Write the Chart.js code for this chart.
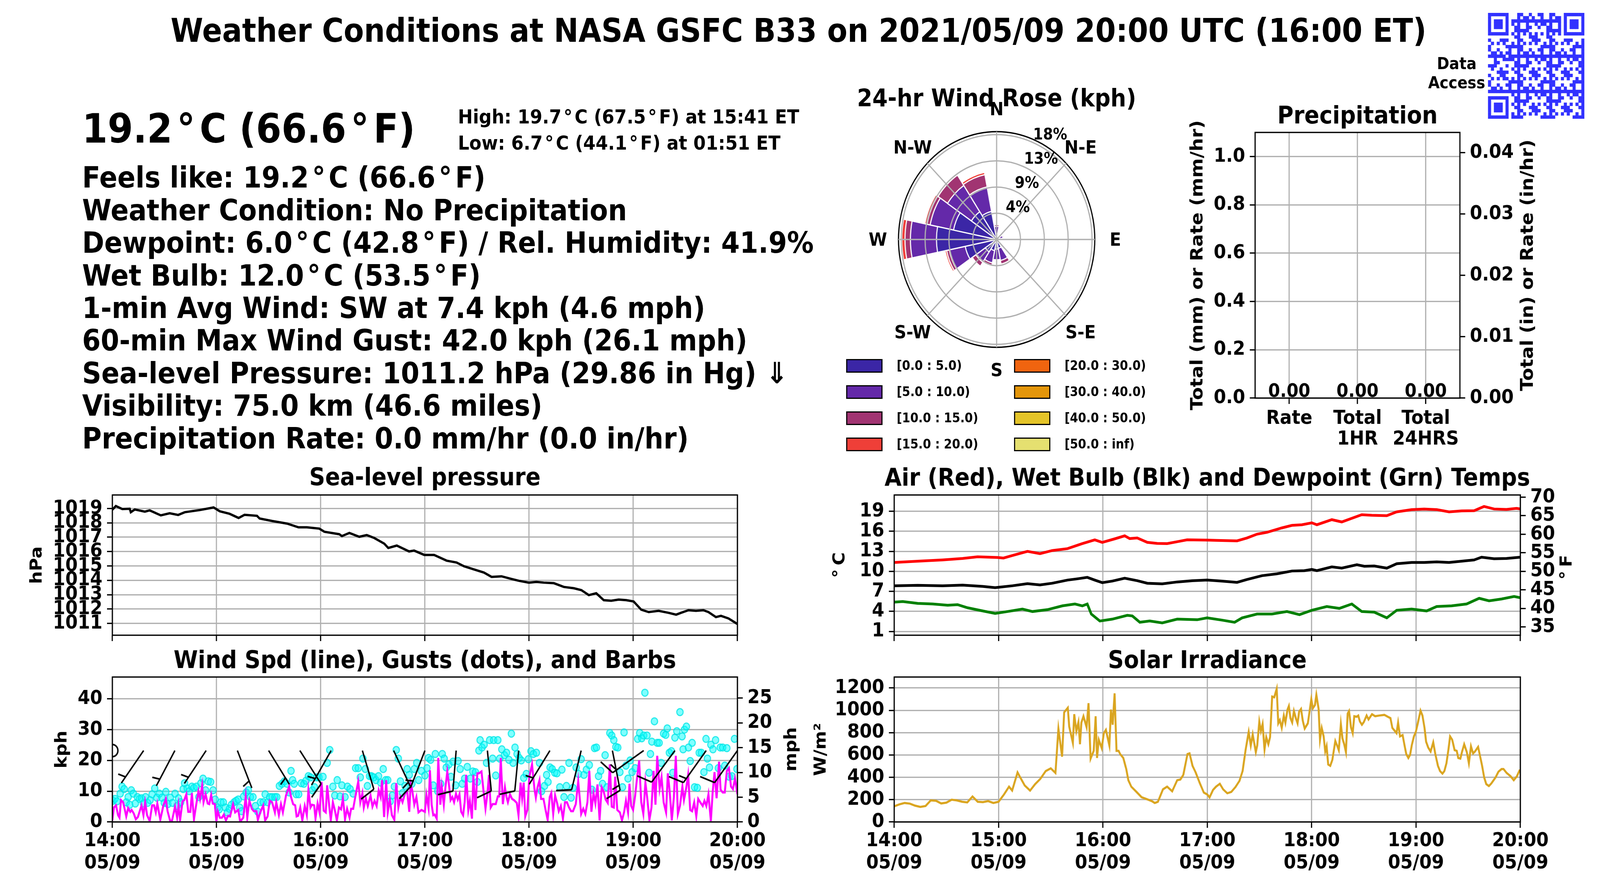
<!DOCTYPE html>
<html>
<head>
<meta charset="utf-8">
<title>Weather Conditions at NASA GSFC B33</title>
<script src="https://cdn.jsdelivr.net/npm/chart.js@4.4.1/dist/chart.umd.min.js"></script>
<style>
  html, body { margin: 0; padding: 0; background: #fff; overflow: hidden; }
  #wrap { position: relative; overflow: hidden; width: 4500px; height: 2250px; }
  #page { position: absolute; left: 0; top: 0; width: 4500px; height: 2250px; overflow: hidden; transform-origin: 0 0;
          font-family: "DejaVu Sans", sans-serif; font-weight: bold; color: #000; }
  .txt { position: absolute; white-space: nowrap; line-height: 1.164; }
  .dg { margin: 0 0.12em; }
  canvas { position: absolute; }
  .key { position: absolute; box-sizing: border-box; border: 3px solid #000; }
</style>
</head>
<body>
<div id="wrap"><div id="page"></div></div>
<script>
// ==========================
// DATA
// ==========================
const hourMinutes = [0, 60, 120, 180, 240, 300, 360];
const hourLabels = ['14:00', '15:00', '16:00', '17:00', '18:00', '19:00', '20:00'];
const dateLabel = '05/09';

// sea-level pressure (minutes after 14:00, hPa)
const pressMin = [0, 2, 5.7, 10, 10.6, 12.9, 18.7, 21.5, 27.9, 33, 37.9, 41.7, 50.3, 58.3, 61.8, 67.5, 72.7, 76.1, 83.3, 84.8,
  91.9, 100.6, 107.2, 112, 119.2, 122.1, 130.7, 132.2, 136.5, 142.2, 146.5, 150.8, 156.6, 158.9, 163.8, 170.9, 173.8, 179.6,
  185.3, 192.5, 198.2, 202.5, 208.3, 214, 218.4, 224.1, 229.8, 234.1, 239.9, 244.2, 248.5, 254.3, 260, 265.8, 270.1, 274.4,
  278.7, 283, 287.3, 291.6, 296, 300.2, 304.6, 308.9, 314.6, 320.3, 324.7, 327.5, 331.8, 336.1, 340.4, 343.3, 347.6, 350.5, 354.8, 360];
const pressHpa = [1018.91, 1019.17, 1018.96, 1018.98, 1018.74, 1018.93, 1018.78, 1018.87, 1018.52, 1018.67, 1018.55, 1018.74,
  1018.89, 1019.07, 1018.81, 1018.63, 1018.34, 1018.56, 1018.49, 1018.30, 1018.13, 1017.95, 1017.69, 1017.69, 1017.60, 1017.38,
  1017.21, 1017.08, 1017.30, 1017.03, 1017.15, 1016.95, 1016.55, 1016.25, 1016.42, 1016.01, 1016.07, 1015.77, 1015.77, 1015.37,
  1015.24, 1014.98, 1014.76, 1014.54, 1014.24, 1014.28, 1014.10, 1013.97, 1013.84, 1013.89, 1013.84, 1013.80, 1013.54, 1013.45,
  1013.32, 1012.97, 1013.10, 1012.62, 1012.58, 1012.66, 1012.62, 1012.53, 1011.96, 1011.79, 1011.88, 1011.74, 1011.61, 1011.74,
  1011.92, 1011.88, 1011.92, 1011.79, 1011.44, 1011.53, 1011.35, 1010.96];
const pressTicks = [1011, 1012, 1013, 1014, 1015, 1016, 1017, 1018, 1019];

// 1-min wind speed (kph)
const windMin = [0, 0.9, 2.1, 3.3, 4.1, 5.0, 6.2, 7.2, 8.0, 9.1, 10.3, 11.1, 12.3, 13.5, 14.7, 16.8, 17.9, 18.9, 20.0, 21.5,
  22.9, 24.0, 25.0, 25.9, 27.6, 29.4, 30.8, 31.8, 33.4, 34.3, 36.1, 37.3, 38.1, 39.0, 40.4, 41.4, 42.6, 43.7, 44.9, 45.8, 47.0,
  48.4, 49.6, 50.5, 51.7, 52.5, 53.7, 54.9, 55.8, 56.9, 57.8, 59.0, 59.9, 60.7, 61.9, 63.1, 64.2, 65.4, 66.6, 67.8, 69.5, 70.7,
  72.5, 73.6, 75.4, 76.8, 77.7, 78.9, 80.3, 81.5, 83.0, 83.8, 85.3, 86.9, 88.0, 89.4, 90.6, 92.0, 93.6, 94.4, 95.9, 97.1, 98.2,
  100.0, 101.8, 102.9, 104.1, 105.3, 106.1, 107.0, 108.2, 109.4, 110.8, 112.0, 112.9, 114.1, 115.0, 116.2, 117.0, 118.2, 119.3,
  120.5, 121.7, 122.9, 123.7, 124.9, 125.8, 127.0, 128.1, 129.3, 130.5, 131.7, 132.8, 134.0, 135.2, 136.6, 137.5, 138.7, 139.9,
  141.6, 142.8, 144.0, 144.8, 146.0, 147.1, 148.7, 149.8, 151.0, 152.2, 153.4, 154.5, 155.3, 156.5, 157.7, 158.6, 159.8, 161.0,
  162.4, 163.5, 164.7, 165.9, 167.1, 168.6, 169.8, 171.0, 171.8, 172.7, 173.9, 175.1, 176.3, 178.0,
  180.0, 180.9, 182.1, 182.9, 183.9, 184.8, 185.6, 186.8, 187.7, 188.9, 189.7, 190.9, 191.8, 192.9, 193.8, 194.8, 195.8, 196.8,
  197.9, 198.9, 199.9, 200.9, 202.0, 202.9, 203.8, 205.0, 205.9, 207.1, 207.9, 209.1, 210.2, 211.1, 212.6, 213.8, 214.9, 216.1,
  216.9, 217.9, 219.0, 220.8, 222.0, 222.8, 223.7, 224.9, 226.1, 227.0, 227.8, 229.0, 230.2, 231.3, 232.9, 233.9, 235.1, 236.0,
  236.9, 237.8, 239.0, 240.1, 241.7, 243.1, 243.9, 244.8, 246.0, 246.9, 248.3, 249.5, 250.7, 251.9, 252.8, 253.9, 255.0, 256.2,
  257.1, 258.3, 259.5, 260.7, 261.8, 263.0, 264.2, 265.3, 266.9, 268.3, 270.0, 271.2, 272.4, 273.6, 274.7, 275.9, 277.1, 278.2,
  279.4, 280.6, 281.8, 282.9, 284.1, 285.3, 286.5, 287.6, 288.8, 289.6, 290.8, 292.3, 293.5, 294.7, 295.8, 297.0, 297.8, 298.8,
  299.9, 301.1, 302.3, 303.4, 304.6, 305.8, 307.0, 308.1, 309.3, 310.5, 311.7, 312.8, 313.8, 315.2, 316.3, 317.5, 318.9, 319.9,
  321.0, 322.2, 323.4, 324.5, 325.7, 326.9, 328.3, 329.2, 330.4, 331.6, 332.8, 333.9, 335.1, 336.3, 337.4, 338.6, 340.0, 341.0,
  342.1, 343.3, 344.7, 345.7, 346.8, 348.0, 349.4, 350.3, 351.5, 352.7, 353.9, 355.1, 356.3, 357.4, 358.6, 360.0];
const windKph = [0.5, 4.7, 5.4, 2.2, 1.4, 7.1, 6.4, 3.9, 1.8, 4.5, 3.3, 3.9, 2.8, 0.9, 1.6, 5.4, 2.2, 6.4, 2.2, 0.3,
  5.4, 5.4, 3.1, 6.0, 0.7, 5.4, 7.5, 3.5, 0.1, 0.3, 5.0, 1.4, 5.4, 0.5, 6.7, 7.1, 9.0, 3.3, 3.3, 9.4, 0.9,
  6.0, 10.0, 7.5, 11.9, 6.4, 9.0, 6.0, 5.8, 8.8, 6.0, 5.8, 0.1, 3.5, 1.4, 1.4, 2.4, 0.5, 2.0, 1.8, 5.8, 3.1,
  3.9, 0.1, 1.4, 8.3, 1.4, 6.9, 4.3, 3.5, 3.5, 0.7, 3.3, 5.4, 0.5, 1.8, 6.9, 6.4, 3.1, 6.4, 2.2, 5.8, 3.1,
  8.6, 11.5, 8.1, 5.8, 5.4, 1.8, 2.0, 4.7, 0.5, 5.2, 2.2, 10.3, 4.7, 5.6, 5.4, 1.1, 6.0, 3.1,
  13.0, 3.7, 3.1, 11.9, 5.2, 0.5, 6.4, 3.9, 0.5, 4.7, 4.1, 7.7, 0.9, 4.3, 1.4, 4.3, 4.3, 8.1,
  13.2, 6.4, 9.4, 4.7, 7.7, 5.2, 8.6, 5.0, 6.9, 5.2, 10.3, 8.1, 13.6, 1.6, 13.6, 3.1, 7.3, 2.2,
  0.7, 12.6, 4.7, 8.1, 6.4, 9.4, 9.8, 3.3, 12.4, 10.3, 5.6, 8.1, 3.1, 3.9,
  3.3, 8.8, 4.5, 16.8, 5.6, 2.2, 2.4, 1.1, 20.8, 5.6, 11.5, 5.6, 11.1, 16.4, 12.4, 7.1, 8.1, 6.4,
  9.2, 7.3, 9.0, 3.3, 2.2, 6.4, 15.3, 3.9, 6.9, 1.1, 15.3, 3.9, 15.8, 15.8, 16.4, 9.8, 4.3, 9.8,
  15.3, 4.7, 5.8, 5.8, 8.3, 8.3, 20.8, 5.8, 11.3, 8.1, 6.4, 9.0, 7.5, 7.1, 6.2, 2.2, 12.8, 7.7,
  12.8, 1.8, 3.9, 14.5, 18.7, 10.7, 7.9, 11.1, 13.6, 7.5, 7.5, 3.9, 0.7, 8.1, 9.4, 2.6, 8.6, 6.0,
  3.5, 5.2, 1.1, 6.4, 6.4, 4.7, 3.5, 3.5, 5.8, 13.2, 2.6, 4.3, 2.6, 6.4, 16.6, 3.3, 9.4, 6.0,
  12.2, 0.5, 11.3, 10.0, 7.3, 6.2, 18.7, 5.0, 4.7, 14.7, 3.9, 3.1, 0.5, 3.1, 6.9, 3.1, 12.4, 5.2,
  3.9, 8.6, 14.9, 20.0, 6.4, 2.6, 12.8, 7.5, 0.7, 4.7, 16.6, 5.6, 21.5, 10.7, 14.5, 6.4, 3.1, 15.8,
  9.8, 0.5, 8.1, 21.5, 2.6, 5.2, 11.5, 7.1, 10.7, 15.3, 3.9, 3.5, 6.4, 1.8, 7.5, 6.4, 5.2, 6.9,
  5.2, 9.0, 0.3, 9.4, 16.2, 7.7, 19.6, 10.5, 9.6, 9.6, 16.6, 17.5, 11.5, 10.7, 14.1, 9.0];

// wind gusts (kph)
const gustMin = [0.4, 1.5, 2.7, 4.5, 5.6, 6.8, 8.0, 9.1, 10.0, 10.9, 12.1, 13.2, 14.4, 15.6, 16.8, 17.9, 19.1, 20.3, 21.7,
  22.9, 24.4, 25.6, 27.1, 28.5, 29.9, 30.8, 32.0, 33.4, 34.6, 36.1, 37.3, 38.1, 39.3, 40.8, 41.6, 43.1, 44.3, 45.8, 47.0,
  48.4, 49.8, 51.0, 52.2, 53.7, 55.2, 56.6, 58.0, 59.2, 60.7, 61.5, 62.5, 63.9, 65.1, 66.2, 67.4, 68.6, 70.1, 71.3, 72.5,
  73.3, 74.4, 75.6, 77.1, 78.3, 79.5, 81.0, 82.4, 83.8, 85.3, 86.9, 88.0, 89.4, 90.6, 92.0, 93.6, 94.7, 96.2, 97.7, 99.1,
  100.6, 101.8, 102.9, 103.8, 104.7, 105.9, 107.3, 108.8, 110.3, 111.5, 112.9, 114.1, 115.2, 116.4, 117.6, 119.0, 121.3,
  123.7, 125.2, 127.0, 128.1, 129.5, 131.1, 132.2, 134.0, 135.4, 136.9, 138.7, 140.1, 141.6, 142.8, 144.3, 145.7, 146.9,
  148.1, 149.2, 150.6, 151.8, 153.3, 154.5, 156.0, 157.4, 158.6, 160.0, 161.2, 162.4, 163.5, 164.7, 165.9, 167.1, 168.6,
  169.8, 171.0, 172.5, 173.9, 175.3, 176.4, 178.0,
  180.0, 181.2, 182.1, 183.3, 184.8, 186.0, 187.4, 189.1, 190.0, 191.1, 192.3, 193.8, 195.0, 196.2, 197.7, 199.1, 200.3,
  201.5, 202.9, 204.4, 206.1, 207.6, 209.1, 210.2, 211.1, 211.8, 212.9, 214.1, 215.5, 217.3, 219.0, 219.6, 220.8, 222.0,
  223.1, 224.3, 225.8, 227.0, 228.4, 229.8, 230.8, 231.9, 233.1, 234.3, 235.5, 236.9, 238.4, 239.6, 241.1, 242.5, 244.2,
  246.0, 247.2, 248.9, 250.1, 250.9, 252.1, 253.3, 254.8, 256.0, 257.7, 258.9, 260.1, 261.5, 263.0, 264.2, 265.3, 267.1,
  268.5, 270.0, 271.6, 273.0, 274.7, 276.2, 277.7, 278.8, 280.0, 281.2, 282.3, 283.8, 284.9, 286.5, 287.6, 288.8, 290.0,
  291.1, 292.3, 293.8, 294.7, 295.8, 297.0, 298.2, 299.3, 301.1, 302.5, 303.7, 304.9, 306.0, 306.7, 307.9, 309.1, 309.9,
  310.7, 312.2, 313.8, 314.9, 316.1, 317.5, 318.7, 319.6, 320.8, 322.0, 322.8, 324.0, 325.1, 326.9, 328.1, 328.7, 329.5,
  330.6, 331.8, 332.8, 333.9, 335.3, 336.9, 338.0, 339.2, 340.7, 341.9, 342.7, 343.9, 344.7, 345.9, 347.4, 349.0, 350.1,
  351.5, 352.7, 353.9, 355.3, 356.8, 358.3, 359.7];
const gustKph = [6.9, 7.5, 6.7, 9.2, 11.5, 10.7, 6.4, 8.1, 5.6, 10.3, 9.2, 6.0, 8.1, 7.5, 7.7, 6.0, 8.1, 6.2, 7.1,
  9.0, 10.9, 7.9, 9.2, 7.9, 6.2, 9.8, 5.8, 7.9, 6.2, 9.2, 5.2, 7.7, 6.4, 10.7, 12.6, 10.9, 10.0, 11.5, 11.1,
  11.5, 8.1, 12.6, 14.1, 10.3, 13.2, 13.0, 10.3, 7.3, 4.7, 4.1, 6.4, 6.4, 4.7, 3.1, 4.3, 5.6, 6.4, 6.9, 7.3,
  4.7, 3.5, 8.3, 9.6, 10.3, 8.1, 8.1, 5.2, 3.3, 6.4, 6.4, 9.0, 6.4, 8.1, 8.1, 8.1, 8.1, 11.7, 12.4, 13.2,
  12.4, 9.6, 16.6, 13.6, 12.4, 9.0, 9.0, 12.6, 12.4, 13.4, 14.9, 14.5, 10.3, 11.3, 14.5, 14.5, 14.7,
  19.2, 23.4, 11.5, 8.6, 13.6, 8.3, 11.9, 8.1, 11.5, 10.7, 9.2, 17.5, 17.5, 14.5, 20.6, 17.2, 11.7,
  14.9, 14.9, 14.5, 13.6, 14.9, 12.8, 17.2, 13.6, 13.6, 6.7, 8.6, 11.5, 23.4, 20.6, 13.2, 9.4, 11.7,
  17.2, 15.3, 12.4, 17.2, 19.2, 13.6, 16.6,
  15.1, 17.5, 20.8, 20.2, 11.9, 22.1, 10.0, 12.4, 22.1, 20.6, 17.7, 18.7, 14.7, 19.6, 11.9, 19.8, 17.2,
  12.4, 14.1, 17.9, 14.1, 16.4, 16.2, 13.0, 23.2, 26.6, 24.2, 25.1, 19.2, 26.6, 20.6, 26.6, 15.1, 26.6,
  20.6, 23.6, 21.7, 22.5, 20.2, 28.7, 19.2, 24.2, 22.1, 20.8, 20.0, 14.3, 15.6, 20.4, 23.0, 22.1, 22.5,
  19.2, 10.0, 11.7, 15.3, 13.0, 17.7, 17.2, 16.0, 15.8, 11.3, 17.0, 8.1, 11.7, 19.2, 7.9, 11.1, 17.7,
  15.6, 20.4, 15.3, 17.0, 18.5, 10.5, 24.0, 24.2, 14.9, 16.6, 12.4, 21.7, 11.3, 28.9, 28.1, 26.6, 24.4,
  24.2, 16.2, 11.3, 29.1, 18.3, 14.1, 20.0, 16.2, 17.5, 27.0, 28.9, 27.2, 28.1, 42.0, 28.1, 16.0, 22.1,
  26.1, 32.7, 25.7, 25.7, 19.2, 28.7, 28.3, 30.4, 22.5, 23.0, 16.0, 27.4, 29.5, 35.7, 27.8, 23.6, 30.0,
  31.0, 24.2, 19.8, 25.7, 11.3, 11.1, 22.5, 22.5, 16.2, 27.0, 20.6, 17.7, 25.1, 23.6, 26.6, 17.5, 24.2,
  24.2, 18.3, 24.0, 14.7, 14.9, 27.0, 17.2];

// wind barbs every 18 minutes: direction the wind blows from (deg) and speed (kph)
const barbMin = [0, 18, 36, 54, 72, 90, 108, 126, 144, 162, 180, 198, 216, 234, 252, 270, 288, 306, 324, 342, 360];
const barbDir = [0, 217, 210, 216, 157, 146, 145, 212, 162, 153, 203, 185, 174, 186, 214, 195, 168, 237, 219, 218, 218];
const barbKph = [0, 5, 5, 5, 5, 5, 10, 5, 10, 15, 5, 10, 10, 10, 5, 10, 15, 15, 10, 15, 10];
const barbLevel = 23.2;
const windTicks = [0, 10, 20, 30, 40];
const mphTicks = [0, 5, 10, 15, 20, 25];

// temperatures (deg C)
const airMin = [0, 13.5, 27.8, 39.3, 47.9, 59.4, 62.8, 68, 76.6, 83.8, 90.9, 99.6, 108.2, 115.3, 119.6, 126.8, 132.5, 135.4,
  139.7, 145.5, 151.2, 156.9, 162.7, 168.4, 179.9, 185.6, 197.1, 202.8, 208.6, 214.3, 222.9, 228.7, 234.4, 240.1, 243, 251.6,
  257.3, 268.8, 274.6, 283.2, 288.9, 297.5, 304.7, 311.9, 319, 326.2, 333.4, 339.1, 344.9, 352, 357.8, 360];
const airC = [11.33, 11.52, 11.71, 11.93, 12.18, 12.08, 11.99, 12.37, 12.99, 12.65, 13.12, 13.40, 14.16, 14.72, 14.34, 14.87,
  15.32, 14.91, 15.00, 14.34, 14.19, 14.16, 14.44, 14.72, 14.68, 14.63, 14.57, 15.00, 15.57, 15.85, 16.51, 16.89, 16.98, 17.27,
  16.98, 17.74, 17.40, 18.49, 18.40, 18.34, 18.91, 19.25, 19.34, 19.25, 18.91, 19.06, 19.09, 19.72, 19.34, 19.28, 19.43, 19.34];
const wetMin = [0, 13.5, 27.8, 39.3, 50.8, 58, 68, 76.6, 83.8, 90.9, 99.6, 105.3, 111, 115.3, 119.6, 125.4, 132.5, 139.7,
  145.5, 154.1, 162.7, 171.3, 179.9, 188.5, 197.1, 202.8, 211.4, 220.1, 228.7, 235.8, 240.1, 243, 251.6, 257.3, 266, 270.3,
  276, 283.2, 288.9, 297.5, 304.7, 311.9, 319, 326.2, 333.4, 337.7, 344.9, 352, 360];
const wetC = [7.84, 7.90, 7.84, 7.93, 7.75, 7.56, 7.84, 8.16, 7.97, 8.22, 8.69, 8.88, 9.10, 8.69, 8.31, 8.54, 8.97, 8.60,
  8.22, 8.12, 8.41, 8.60, 8.69, 8.54, 8.35, 8.78, 9.35, 9.63, 10.05, 10.10, 10.29, 10.10, 10.67, 10.48, 10.99, 10.76,
  10.80, 10.48, 11.14, 11.33, 11.33, 11.42, 11.33, 11.52, 11.71, 12.12, 11.89, 11.93, 12.12];
const dewMin = [0, 4.9, 13.5, 22.1, 30.7, 36.4, 42.2, 50.8, 58, 65.1, 73.7, 79.5, 88.1, 96.7, 103.9, 108.2, 111, 113.3,
  118.2, 125.4, 134, 136.9, 141.2, 146.9, 154.1, 162.7, 174.2, 179.9, 188.5, 195.7, 200, 208.6, 217.2, 225.8, 233, 240.1,
  248.7, 255.9, 263.1, 268.8, 276, 283.2, 288.9, 297.5, 306.1, 311.9, 320.5, 329.1, 336.3, 342, 349.2, 356.4, 360];
const dewC = [5.39, 5.48, 5.20, 5.11, 4.92, 5.01, 4.54, 4.07, 3.69, 3.98, 4.35, 3.98, 4.26, 4.83, 5.11, 4.83, 5.11, 3.60,
  2.56, 2.84, 3.41, 3.32, 2.37, 2.56, 2.28, 2.84, 2.75, 3.03, 2.69, 2.37, 3.03, 3.60, 3.60, 3.98, 3.51, 4.17,
  4.73, 4.45, 5.11, 3.98, 3.88, 3.03, 4.17, 4.35, 4.07, 4.73, 4.83, 5.11, 5.96, 5.58, 5.86, 6.24, 6.05];
const tempCTicks = [1, 4, 7, 10, 13, 16, 19];
const tempFTicks = [35, 40, 45, 50, 55, 60, 65, 70];

// solar irradiance (W/m2)
const solarMin = [0, 3, 6, 9, 12, 15, 18, 21, 24, 27, 30, 33, 36, 39, 42, 45, 48, 51, 54, 57, 60, 63.1, 66, 67.8, 70.9,
  72.1, 75, 78.1, 81, 84, 87.1, 90, 92.7, 94.4, 96.5, 97.7, 99.8, 100.6, 102.7, 103.5, 104.7, 105.9, 106.8, 107.6, 108.8,
  110.6, 111.7, 112.9, 114.7, 115.8, 116.6, 117.6, 119.3, 120.5, 121.7, 123.7, 124.6, 125.6, 126.7, 127.8, 129.0, 129.9,
  131.7, 133.4, 134.6, 136.3, 139.3, 142.2, 145.1, 148.1, 149.8, 151.6, 154.5, 156.9, 159.8, 162.7, 164.5, 166.2, 168.6,
  169.8, 171.5, 173.3, 175.6, 178.0, 180.0, 181.3, 183.3, 185.0, 187.2, 189.1, 191.5, 193.8, 196.2, 198.5, 200.3, 202.0,
  203.8, 205.0, 206.1, 207.9, 208.7, 209.9, 210.8, 211.8, 212.9, 213.9, 215.1, 216.1, 217.3, 218.5, 219.9, 220.8, 221.7,
  222.8, 224.0, 224.9, 226.1, 226.9, 227.8, 228.8, 229.8, 231.0, 231.9, 232.8, 233.9, 234.9, 236.0, 237.8, 239.0, 239.8,
  240.7, 241.9, 242.7, 244.0, 244.8, 245.8, 246.9, 247.8, 248.6, 249.5, 250.7, 251.9, 253.6, 254.8, 255.6, 256.8, 257.7,
  258.7, 259.7, 260.7, 261.5, 262.6, 263.6, 264.5, 265.9, 266.8, 267.7, 268.9, 270.0, 271.6, 272.7, 274.7, 276.5, 278.8,
  281.8, 283.8, 285.3, 286.4, 287.6, 288.8, 289.7, 290.8, 292.3, 293.5, 294.4, 295.6, 296.6, 297.6, 298.8, 299.9, 301.1,
  302.6, 303.7, 304.9, 305.8, 307.0, 308.4, 309.9, 311.1, 312.6, 313.8, 315.2, 316.3, 317.5, 318.7, 319.6, 320.8, 322.2,
  323.4, 324.3, 325.5, 326.5, 327.7, 329.2, 330.4, 331.6, 332.8, 333.9, 335.7, 336.9, 338.0, 339.2, 340.4, 341.9, 343.3,
  345.7, 347.4, 349.2, 350.3, 352.1, 354.4, 356.2, 358.0, 359.7];
const solarWm2 = [140, 158, 170, 164, 146, 135, 143, 193, 190, 166, 173, 199, 193, 181, 175, 228, 181, 178, 187, 170, 181,
  246, 316, 281, 444, 409, 327, 281, 339, 386, 456, 480, 439, 836, 585, 982, 1023, 854, 708, 965, 813, 895, 696, 889, 947,
  848, 1064, 567, 637, 947, 573, 737, 661, 795, 825, 684, 1006, 871, 1152, 637, 637, 608, 573, 474, 374, 316, 269, 222,
  205, 187, 170, 181, 292, 316, 275, 374, 380, 421, 608, 614, 503, 444, 351, 263, 246, 220, 287, 316, 342, 292, 257, 269,
  313, 368, 456, 643, 807, 684, 784, 626, 684, 898, 813, 877, 649, 760, 696, 760, 1123, 1117, 1193, 883, 912, 842, 953,
  889, 1006, 1039, 930, 891, 994, 924, 883, 988, 1012, 906, 836, 883, 1012, 1099, 1018, 1047, 1140, 1012, 737, 842, 766,
  631, 678, 515, 503, 556, 725, 678, 643, 877, 749, 696, 626, 971, 994, 848, 795, 947, 942, 953, 901, 871, 895, 953, 918,
  965, 947, 953, 959, 942, 930, 842, 819, 795, 889, 766, 778, 678, 608, 573, 602, 690, 766, 807, 889, 997, 953, 842, 719,
  667, 631, 713, 608, 503, 456, 433, 456, 526, 655, 766, 737, 643, 637, 573, 567, 631, 696, 626, 526, 678, 614, 631, 672,
  585, 503, 398, 339, 322, 345, 398, 450, 474, 474, 439, 409, 374, 409, 468];
const solarTicks = [0, 200, 400, 600, 800, 1000, 1200];

// precipitation
const precipCats = ['Rate', ['Total', '1HR'], ['Total', '24HRS']];
const precipMm = [0, 0, 0];
const precipMmTicks = [0, 0.2, 0.4, 0.6, 0.8, 1.0];
const precipInTicks = [0, 0.01, 0.02, 0.03, 0.04];

// 24-hr wind rose: % of time per direction, split by speed bin (kph)
const roseDirs = ['N', 'NNE', 'NE', 'ENE', 'E', 'ESE', 'SE', 'SSE', 'S', 'SSW', 'SW', 'WSW', 'W', 'WNW', 'NW', 'NNW'];
const roseBin0 = [1.0, 0.3, 0, 0.6, 0.3, 0, 0.3, 1.5, 1.6, 1.9, 2.5, 5.9, 11.1, 8.1, 5.6, 4.8];
const roseBin1 = [1.2, 0.2, 0, 0.6, 0.2, 0, 0.5, 2.1, 1.8, 2.1, 2.1, 3.0, 4.8, 4.4, 5.3, 4.2];
const roseBin2 = [0.3, 0, 0, 0.2, 0, 0, 0, 0.6, 0.1, 0.4, 0.8, 0.5, 1.0, 0.6, 2.1, 2.1];
const roseBin3 = [0, 0, 0, 0, 0, 0, 0, 0.2, 0, 0, 0.1, 0.3, 0.6, 0.4, 0.2, 0.4];
const roseBin4 = roseDirs.map(() => 0);
const roseBin5 = roseDirs.map(() => 0);
const roseBin6 = roseDirs.map(() => 0);
const roseBin7 = roseDirs.map(() => 0);
const roseBinLabels = ['[0.0 : 5.0)', '[5.0 : 10.0)', '[10.0 : 15.0)', '[15.0 : 20.0)',
  '[20.0 : 30.0)', '[30.0 : 40.0)', '[40.0 : 50.0)', '[50.0 : inf)'];
const roseBinColors = ['#3b26a6', '#6429a9', '#a13472', '#ef3f38', '#f0640f', '#e4960b', '#e4c429', '#e5e070'];
const compassLabels = ['N', 'N-E', 'E', 'S-E', 'S', 'S-W', 'W', 'N-W'];
const roseRings = [4.4, 8.8, 13.2, 17.6];
const roseMax = 18.1;

// text panel
const mainTitle = 'Weather Conditions at NASA GSFC B33 on 2021/05/09 20:00 UTC (16:00 ET)';
const nowTemp = '19.2°C (66.6°F)';
const highLow = ['High: 19.7°C (67.5°F) at 15:41 ET', 'Low: 6.7°C (44.1°F) at 01:51 ET'];
const infoLines = [
  'Feels like: 19.2°C (66.6°F)',
  'Weather Condition: No Precipitation',
  'Dewpoint: 6.0°C (42.8°F) / Rel. Humidity: 41.9%',
  'Wet Bulb: 12.0°C (53.5°F)',
  '1-min Avg Wind: SW at 7.4 kph (4.6 mph)',
  '60-min Max Wind Gust: 42.0 kph (26.1 mph)',
  'Sea-level Pressure: 1011.2 hPa (29.86 in Hg) \u21D3',
  'Visibility: 75.0 km (46.6 miles)',
  'Precipitation Rate: 0.0 mm/hr (0.0 in/hr)'
];

// ==========================
// HELPERS
// ==========================
const page = document.getElementById('page');
const wrap = document.getElementById('wrap');
// the layout is drawn in 4500 x 2250 units and stretched to fill the window
const viewW = window.innerWidth || 4500;
const viewH = window.innerHeight || 2250;
page.style.transform = 'scale(' + (viewW / 4500) + ', ' + (viewH / 2250) + ')';
wrap.style.width = viewW + 'px';
wrap.style.height = viewH + 'px';

const GRID = '#b0b0b0';
const LW = 3.3;

Chart.defaults.font.family = "'DejaVu Sans', sans-serif";
Chart.defaults.font.weight = 'bold';
Chart.defaults.color = '#000';
Chart.defaults.animation = false;
Chart.defaults.plugins.legend.display = false;
Chart.defaults.plugins.tooltip.enabled = false;

function text(str, x, baseline, size, align) {
  const el = document.createElement('div');
  el.className = 'txt';
  el.style.fontSize = size + 'px';
  el.style.top = (baseline - 0.928 * size) + 'px';
  el.innerHTML = str.replace(/°/g, '<span class="dg">°</span>');
  el.style.left = x + 'px';
  if (align === 'center') el.style.transform = 'translateX(-50%)';
  page.appendChild(el);
}

function vtext(str, cx, cy, size) {
  const el = document.createElement('div');
  el.className = 'txt';
  el.style.fontSize = size + 'px';
  el.style.left = cx + 'px';
  el.style.top = cy + 'px';
  el.style.transform = 'translate(-50%, -50%) rotate(-90deg)';
  el.textContent = str;
  page.appendChild(el);
}

function mount(x, y, w, h) {
  const c = document.createElement('canvas');
  c.width = w;
  c.height = h;
  c.style.left = x + 'px';
  c.style.top = y + 'px';
  page.appendChild(c);
  return c;
}

function series(xs, ys) {
  return xs.map((x, i) => ({ x: x, y: ys[i] }));
}

// box round the plot area (matplotlib spines)
const framePlugin = {
  id: 'frame',
  afterDatasetsDraw(chart) {
    const a = chart.chartArea, ctx = chart.ctx;
    ctx.save();
    ctx.strokeStyle = '#000';
    ctx.lineWidth = LW;
    ctx.strokeRect(a.left, a.top, a.right - a.left, a.bottom - a.top);
    ctx.restore();
  }
};

// value written on top of each precipitation bar
const barValuePlugin = {
  id: 'barValues',
  afterDatasetsDraw(chart) {
    const ctx = chart.ctx;
    const values = chart.data.datasets[0].data;
    ctx.save();
    ctx.font = "bold 48px 'DejaVu Sans'";
    ctx.fillStyle = '#000';
    ctx.textAlign = 'center';
    ctx.textBaseline = 'alphabetic';
    chart.getDatasetMeta(0).data.forEach((bar, i) => {
      ctx.fillText(values[i].toFixed(2), bar.x, bar.y - 3);
    });
    ctx.restore();
  }
};

function gridOpts(onArea) {
  return { display: true, drawOnChartArea: onArea, color: GRID, lineWidth: LW,
           tickColor: '#000', tickWidth: LW, tickLength: 15 };
}

function timeAxis(withLabels, height) {
  return {
    type: 'linear', position: 'bottom', min: 0, max: 360,
    afterBuildTicks: s => { s.ticks = hourMinutes.map(v => ({ value: v })); },
    afterFit: s => { s.height = height; },
    grid: gridOpts(true),
    border: { display: false },
    ticks: { autoSkip: false, maxRotation: 0, padding: 6, font: { size: 50, lineHeight: 1.13 },
             callback: (v, i) => withLabels ? [hourLabels[i], dateLabel] : '' }
  };
}

function valueAxis(o) {
  return {
    type: 'linear', position: o.side, min: o.min, max: o.max,
    afterBuildTicks: s => { s.ticks = o.ticks.map(v => ({ value: v })); },
    afterFit: s => { s.width = o.width; },
    grid: gridOpts(o.side === 'left'),
    border: { display: false },
    ticks: { autoSkip: false, padding: 13, font: { size: 50 }, callback: o.fmt || (v => String(v)) },
    title: { display: !!o.title, text: o.title || '', padding: 0, font: { size: o.titleSize || 46 } }
  };
}

// empty axis that only reserves room, so the title centres over the plot
function spacerAxis(width) {
  return {
    type: 'linear', position: 'right', min: 0, max: 1,
    afterBuildTicks: s => { s.ticks = []; },
    afterFit: s => { s.width = width; },
    grid: { display: false }, border: { display: false }, ticks: { display: false }
  };
}

function panelOptions(title, padBottom, scales) {
  return {
    responsive: false, devicePixelRatio: 1, animation: false,
    layout: { padding: 0 },
    scales: scales,
    plugins: {
      legend: { display: false }, tooltip: { enabled: false },
      title: { display: true, text: title, font: { size: 62 }, padding: { top: 0, bottom: padBottom } }
    }
  };
}

function barbImage(kph) {
  const L = 104, size = 2 * (L + 40);
  const c = document.createElement('canvas');
  c.width = size; c.height = size;
  const g = c.getContext('2d');
  const cx = size / 2, cy = size / 2;
  g.strokeStyle = '#000';
  g.lineWidth = 4;
  const n = Math.round(kph / 5);
  if (n === 0) {
    g.beginPath();
    g.arc(cx, cy, 0.15 * L, 0, 2 * Math.PI);
    g.stroke();
    return c;
  }
  const sp = 0.125 * L, fh = 0.4 * L, fw = 0.25 * L;
  const full = Math.floor(n / 2), half = n % 2;
  g.beginPath();
  g.moveTo(cx, cy);
  g.lineTo(cx, cy - L);
  let off = L;
  for (let i = 0; i < full; i++) {
    g.moveTo(cx, cy - off);
    g.lineTo(cx + fh, cy - off - fw / 2);
    off -= sp;
  }
  if (half) {
    if (full === 0) off = L - 1.5 * sp;
    g.moveTo(cx, cy - off);
    g.lineTo(cx + fh / 2, cy - off - fw / 4);
  }
  g.stroke();
  return c;
}

// ==========================
// TEXT PANEL
// ==========================
text(mainTitle, 2246, 108, 83, 'center');
text(nowTemp, 231, 366, 103);
text(highLow[0], 1288, 316, 50);
text(highLow[1], 1288, 383, 50);
infoLines.forEach((line, i) => text(line, 231, 481 + 83.4 * i, 75));
text('Data', 4097, 178, 42, 'center');
text('Access', 4097, 227, 42, 'center');

// decorative QR block
(function () {
  const n = 33, px = 8.2;
  const c = mount(4185, 33, Math.round(n * px), Math.round(n * px));
  const g = c.getContext('2d');
  g.fillStyle = '#3131ff';
  const cell = (r, q) => g.fillRect(q * px, r * px, px + 0.5, px + 0.5);
  for (let r = 0; r < n; r++) {
    for (let q = 0; q < n; q++) {
      const inFinder = (r < 8 && q < 8) || (r < 8 && q >= n - 8) || (r >= n - 8 && q < 8);
      if (inFinder) continue;
      if (r === 6 || q === 6) { if ((r + q) % 2 === 0) cell(r, q); continue; }
      if ((r * 73 + q * 151 + r * q * 7) % 11 < 5) cell(r, q);
    }
  }
  [[0, 0], [0, n - 7], [n - 7, 0]].forEach(([r0, q0]) => {
    for (let r = 0; r < 7; r++) for (let q = 0; q < 7; q++) {
      if (r === 0 || r === 6 || q === 0 || q === 6 || (r >= 2 && r <= 4 && q >= 2 && q <= 4)) cell(r0 + r, q0 + q);
    }
  });
})();

// ==========================
// WIND ROSE
// ==========================
const roseCx = 2803, roseCy = 613, roseR = 276;
text('24-hr Wind Rose (kph)', roseCx, 273, 62, 'center');

const roseBins = [roseBin0, roseBin1, roseBin2, roseBin3, roseBin4, roseBin5, roseBin6, roseBin7];
const roseCum = [];
roseBins.forEach((bin, b) => {
  roseCum.push(bin.map((v, d) => v + (b > 0 ? roseCum[b - 1][d] : 0)));
});

new Chart(mount(roseCx - roseR - 10, roseCy - roseR - 10, 2 * roseR + 20, 2 * roseR + 20), {
  type: 'polarArea',
  data: {
    labels: roseDirs,
    datasets: roseCum.map((vals, b) => ({
      data: vals, backgroundColor: roseBinColors[b], borderColor: '#fff', borderWidth: 3
    }))
  },
  options: {
    responsive: false, devicePixelRatio: 1, animation: false,
    layout: { padding: 10 },
    scales: {
      r: { min: 0, max: roseMax, startAngle: -11.25,
           ticks: { display: false }, grid: { display: false },
           angleLines: { display: false }, pointLabels: { display: false } }
    }
  }
});

// grid on top of the wedges
new Chart(mount(roseCx - roseR - 10, roseCy - roseR - 10, 2 * roseR + 20, 2 * roseR + 20), {
  type: 'radar',
  data: {
    labels: compassLabels,
    datasets: [{ data: compassLabels.map(() => 0), pointRadius: 0, borderWidth: 0, showLine: false }]
  },
  options: {
    responsive: false, devicePixelRatio: 1, animation: false,
    layout: { padding: 10 },
    scales: {
      r: { min: 0, max: roseMax, startAngle: 0,
           afterBuildTicks: s => { s.ticks = [0].concat(roseRings, [roseMax]).map(v => ({ value: v })); },
           ticks: { display: false }, pointLabels: { display: false },
           grid: { circular: true, lineWidth: LW,
                   color: c => (c.tick && c.tick.value >= roseMax) ? '#000' : GRID },
           angleLines: { color: GRID, lineWidth: LW } }
    }
  }
});

compassLabels.forEach((lab, i) => {
  const a = i * 45 * Math.PI / 180;
  text(lab, roseCx + 334 * Math.sin(a), roseCy - 334 * Math.cos(a) + 17, 47, 'center');
});
roseRings.forEach(v => {
  const r = v / roseMax * roseR, a = 22.5 * Math.PI / 180;
  text(Math.round(v) + '%', roseCx + r * Math.sin(a), roseCy - r * Math.cos(a) - 8, 40);
});
roseBinLabels.forEach((lab, b) => {
  const col = Math.floor(b / 4), row = b % 4;
  const cy = 936 + 67 * row;
  const key = document.createElement('div');
  key.className = 'key';
  key.style.left = [2380, 2852][col] + 'px';
  key.style.top = (cy - 17.5) + 'px';
  key.style.width = '102px';
  key.style.height = '35px';
  key.style.background = roseBinColors[b];
  page.appendChild(key);
  text(lab, [2522, 2994][col], cy + 12, 33);
});

// ==========================
// PRECIPITATION
// ==========================
new Chart(mount(3341, 263, 954, 906), {
  type: 'bar',
  data: { labels: precipCats, datasets: [{ data: precipMm, backgroundColor: '#1f77b4' }] },
  options: panelOptions('Precipitation', 1.6, {
    x: { type: 'category', offset: true, afterFit: s => { s.height = 150; },
         grid: Object.assign(gridOpts(true), { offset: false }), border: { display: false },
         ticks: { padding: 12, font: { size: 50, lineHeight: 1.05 } } },
    y: valueAxis({ side: 'left', min: 0, max: 1.1, ticks: precipMmTicks, width: 189,
                   title: 'Total (mm) or Rate (mm/hr)', titleSize: 48, fmt: v => v.toFixed(1) }),
    y2: valueAxis({ side: 'right', min: 0, max: 1.1 / 25.4, ticks: precipInTicks, width: 189, fmt: v => v.toFixed(2) })
  }),
  plugins: [framePlugin, barValuePlugin]
});
vtext('Total (in) or Rate (in/hr)', 4295, 679, 48);

// ==========================
// SEA-LEVEL PRESSURE
// ==========================
new Chart(mount(77, 1189, 2236, 480), {
  type: 'line',
  data: { datasets: [{ data: series(pressMin, pressHpa), borderColor: '#000', borderWidth: 6, pointRadius: 0 }] },
  options: panelOptions('Sea-level pressure', 3.6, {
    x: timeAxis(false, 32),
    y: valueAxis({ side: 'left', min: 1010.18, max: 1019.94, ticks: pressTicks, width: 239, title: 'hPa' }),
    y2: spacerAxis(239)
  }),
  plugins: [framePlugin]
});

// ==========================
// WIND
// ==========================
const barbImages = barbKph.map(barbImage);
new Chart(mount(147, 1657, 2096, 587), {
  type: 'line',
  data: {
    datasets: [
      { data: series(barbMin, barbMin.map(() => barbLevel)), showLine: false, pointRadius: 2,
        pointStyle: c => barbImages[c.dataIndex], pointRotation: c => barbDir[c.dataIndex], clip: 0, order: 0 },
      { data: series(windMin, windKph), borderColor: '#ff00ff', borderWidth: 5.5, pointRadius: 0, order: 1 },
      { data: series(gustMin, gustKph), showLine: false, pointRadius: 9,
        pointBackgroundColor: 'rgba(0,255,255,0.5)', pointBorderColor: 'rgba(0,230,230,0.8)',
        pointBorderWidth: 3, order: 2 }
    ]
  },
  options: panelOptions('Wind Spd (line), Gusts (dots), and Barbs', 1.6, {
    x: timeAxis(true, 140),
    y: valueAxis({ side: 'left', min: 0, max: 47.1, ticks: windTicks, width: 169, title: 'kph' }),
    y2: valueAxis({ side: 'right', min: 0, max: 47.1 * 0.621371, ticks: mphTicks, width: 169 })
  }),
  plugins: [framePlugin]
});
vtext('mph', 2224, 1918, 46);

// ==========================
// TEMPERATURES
// ==========================
new Chart(mount(2335, 1190, 2121, 479), {
  type: 'line',
  data: {
    datasets: [
      { data: series(airMin, airC), borderColor: '#ff0000', borderWidth: 7, pointRadius: 0 },
      { data: series(wetMin, wetC), borderColor: '#000000', borderWidth: 7, pointRadius: 0 },
      { data: series(dewMin, dewC), borderColor: '#008000', borderWidth: 7, pointRadius: 0 }
    ]
  },
  options: panelOptions('Air (Red), Wet Bulb (Blk) and Dewpoint (Grn) Temps', 2.6, {
    x: timeAxis(false, 32),
    y: valueAxis({ side: 'left', min: 0.43, max: 21.44, ticks: tempCTicks, width: 180, title: '°\u2009C' }),
    y2: valueAxis({ side: 'right', min: 0.43 * 1.8 + 32, max: 21.44 * 1.8 + 32, ticks: tempFTicks, width: 180 })
  }),
  plugins: [framePlugin]
});
vtext('°\u2009F', 4405, 1452, 46);

// ==========================
// SOLAR IRRADIANCE
// ==========================
new Chart(mount(2282, 1657, 2227, 587), {
  type: 'line',
  data: { datasets: [{ data: series(solarMin, solarWm2), borderColor: '#daa520', borderWidth: 5.5, pointRadius: 0 }] },
  options: panelOptions('Solar Irradiance', 1.6, {
    x: timeAxis(true, 140),
    y: valueAxis({ side: 'left', min: 0, max: 1298, ticks: solarTicks, width: 233, title: 'W/m²' }),
    y2: spacerAxis(233)
  }),
  plugins: [framePlugin]
});
</script>
</body>
</html>
